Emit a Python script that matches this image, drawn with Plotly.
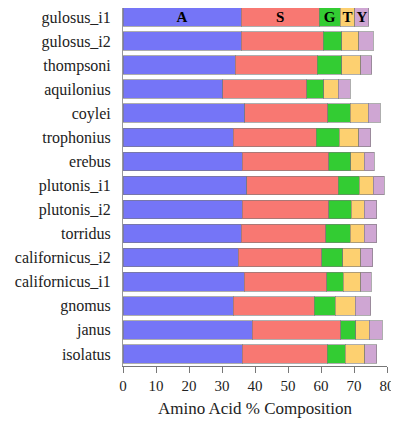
import plotly.graph_objects as go

species = ["gulosus_i1", "gulosus_i2", "thompsoni", "aquilonius", "coylei",
           "trophonius", "erebus", "plutonis_i1", "plutonis_i2", "torridus",
           "californicus_i2", "californicus_i1", "gnomus", "janus", "isolatus"]
A = [35.8, 35.8, 34.0, 30.2, 36.9, 33.4, 36.2, 37.5, 36.2, 35.8, 34.9, 36.8, 33.4, 39.2, 36.2]
S = [23.7, 24.9, 24.9, 25.5, 25.2, 25.1, 26.1, 27.7, 26.1, 25.7, 25.3, 25.0, 24.5, 26.8, 25.7]
G = [6.3, 5.6, 7.4, 5.2, 6.7, 7.1, 6.7, 6.4, 6.8, 7.3, 6.4, 5.0, 6.4, 4.6, 5.4]
T = [4.5, 5.2, 5.7, 4.4, 5.5, 5.9, 4.1, 4.3, 4.0, 4.3, 5.4, 5.2, 6.1, 4.0, 6.0]
Y = [4.2, 4.4, 3.4, 3.5, 3.6, 3.6, 3.1, 3.2, 3.8, 3.8, 3.7, 3.2, 4.7, 4.0, 3.6]

series = [("A", A, "#7575f7"), ("S", S, "#f87872"), ("G", G, "#33cc33"),
          ("T", T, "#fdd070"), ("Y", Y, "#cfa6d3")]

FONT = "Liberation Serif, Times New Roman, serif"

fig = go.Figure()
for name, vals, col in series:
    labels = [name] + [""] * (len(species) - 1)
    fig.add_trace(go.Bar(
        y=species, x=vals, orientation="h", name=name,
        marker=dict(color=col, line=dict(color="rgba(120,120,120,0.6)", width=1)),
        text=labels, textposition="inside", insidetextanchor="middle",
        textangle=0, constraintext="none",
        textfont=dict(family=FONT, size=15, color="black", weight="bold"),
        hoverinfo="x+y",
    ))

fig.update_layout(
    barmode="stack", bargap=0.23,
    width=391, height=415,
    margin=dict(l=115, r=12, t=0, b=57),
    plot_bgcolor="white", paper_bgcolor="white",
    showlegend=False,
    font=dict(family=FONT, size=15, color="#222222"),
    uniformtext=dict(mode=False),
)
fig.update_xaxes(
    range=[0, 80], tickvals=[0, 10, 20, 30, 40, 50, 60, 70, 80],
    showline=True, linecolor="#777777", linewidth=1,
    ticks="outside", ticklen=6, tickcolor="#777777",
    showgrid=False, zeroline=False, automargin=False,
    tickfont=dict(family=FONT, size=15),
    title=dict(text="Amino Acid % Composition", font=dict(family=FONT, size=17), standoff=9),
)
fig.update_yaxes(
    range=[14.5, -0.37], showline=True, linecolor="#999999", linewidth=1,
    ticks="", showgrid=False, ticklabelstandoff=8, automargin=False,
    tickfont=dict(family=FONT, size=16),
)

fig.write_html("out.html")
